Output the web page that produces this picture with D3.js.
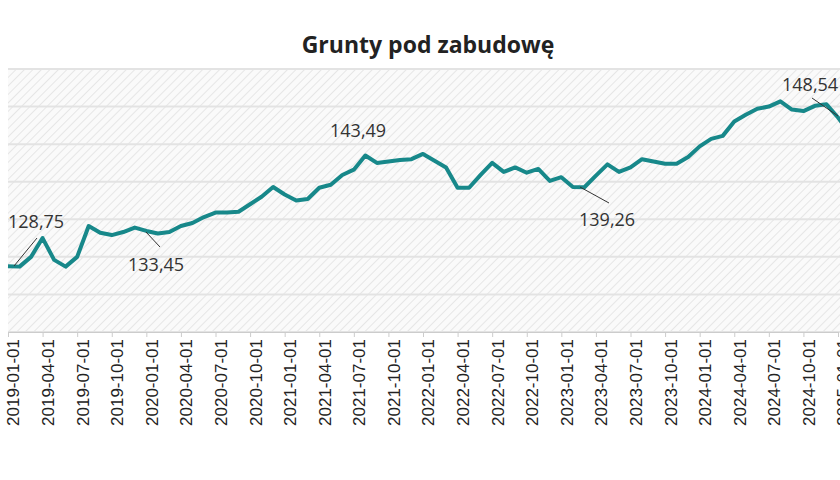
<!DOCTYPE html>
<html><head><meta charset="utf-8">
<script src="https://cdn.jsdelivr.net/npm/d3@7"></script>
<style>body{margin:0;background:#fff}svg{display:block}</style>
</head><body>
<svg id="c" width="840" height="480"></svg>
<script>
const startYear = 2019;
const values = [128.75,128.7,130.0,132.5,129.6,128.7,130.0,134.1,133.2,132.9,133.3,133.9,
133.45,133.1,133.3,134.1,134.5,135.3,135.9,135.9,136.0,137.0,138.0,139.3,
138.3,137.5,137.7,139.2,139.6,140.9,141.6,143.49,142.5,142.7,142.9,143.0,
143.7,142.8,141.9,139.2,139.2,140.9,142.5,141.3,141.9,141.2,141.7,140.1,
140.6,139.3,139.26,140.8,142.3,141.3,141.9,143.0,142.7,142.4,142.4,143.3,
144.7,145.7,146.1,148.0,148.9,149.7,150.0,150.7,149.6,149.4,150.1,150.3,
148.54,146.5];
const categories = values.map((v,i)=>{const y=startYear+Math.floor(i/12),m=i%12+1;return `${y}-${String(m).padStart(2,'0')}-01`;});
const yTicks = [120,125,130,135,140,145,150,155];
const annotations = [
  {i:0, text:"128,75", lx:8, ly:228, leader:[[14,266],[37,238]]},
  {i:12, text:"133,45", lx:128, ly:271, leader:[[146,232],[160,247]]},
  {i:31, text:"143,49", lx:330, ly:137, leader:null},
  {i:50, text:"139,26", lx:579, ly:226, leader:[[580,187],[609,203]]},
  {i:72, text:"148,54", lx:782, ly:91, leader:[[812,98],[838,116]]}
];

const svg = d3.select("#c");
const L=8, T=69, B=332;
const x = d3.scaleLinear().domain([0,72]).range([L,838]);
const y = d3.scaleLinear().domain([120,155]).range([B,T]);

const defs = svg.append("defs");
const pat = defs.append("pattern").attr("id","hatch").attr("patternUnits","userSpaceOnUse")
  .attr("width",6).attr("height",6).attr("patternTransform","rotate(45)");
pat.append("rect").attr("width",6).attr("height",6).attr("fill","#fafafa");
pat.append("line").attr("x1",0).attr("y1",0).attr("x2",0).attr("y2",6).attr("stroke","#d9d9d9").attr("stroke-width",1.2);

svg.append("rect").attr("x",L).attr("y",T).attr("width",840-L).attr("height",B-T).attr("fill","url(#hatch)");

svg.append("g").selectAll("line").data(yTicks).join("line")
  .attr("x1",L).attr("x2",840).attr("y1",d=>y(d)).attr("y2",d=>y(d))
  .attr("stroke","#e3e3e3").attr("stroke-width",2);

const tickIdx = d3.range(0,values.length,3);
const ax = svg.append("g").attr("transform",`translate(0,${B})`)
  .call(d3.axisBottom(x).tickValues(tickIdx).tickFormat(i=>categories[i]).tickSize(5));
ax.select(".domain").attr("stroke","#ccc");
ax.selectAll(".tick line").attr("stroke","#ccc");
ax.selectAll("text").attr("transform","rotate(-90)").attr("text-anchor","end")
  .attr("x",-7).attr("y",5).attr("dy","0.35em")
  .attr("font-family","Liberation Sans, Arial, sans-serif").attr("font-size",17).attr("fill","#222");

svg.append("path").datum(values)
  .attr("d",d3.line().x((d,i)=>x(i)).y(d=>y(d)))
  .attr("fill","none").attr("stroke","#17888a").attr("stroke-width",4).attr("stroke-linejoin","round");

const ag = svg.append("g");
annotations.forEach(a=>{
  if(a.leader) ag.append("line").attr("x1",a.leader[0][0]).attr("y1",a.leader[0][1])
    .attr("x2",a.leader[1][0]).attr("y2",a.leader[1][1]).attr("stroke","#333").attr("stroke-width",1);
  ag.append("text").attr("x",a.lx).attr("y",a.ly)
    .attr("font-family","Open Sans, sans-serif").attr("font-size",18).attr("fill","#333").text(a.text);
});

svg.append("text").attr("x",428).attr("y",53).attr("text-anchor","middle")
  .attr("font-family","Open Sans, sans-serif").attr("font-weight","bold").attr("font-size",23)
  .attr("fill","#222").text("Grunty pod zabudowę");
</script>
</body></html>
